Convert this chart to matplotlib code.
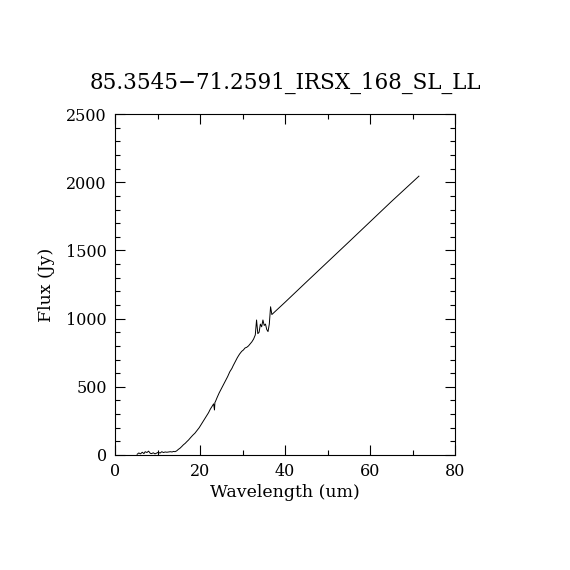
import matplotlib
matplotlib.use("Agg")
import matplotlib.pyplot as plt
import numpy as np
from matplotlib.ticker import MultipleLocator

plt.rcParams.update({
    "font.family": ["DejaVu Serif"],
    "font.size": 11,
    "xtick.direction": "in",
    "ytick.direction": "in",
    "xtick.top": True,
    "ytick.right": True,
    "xtick.major.size": 7.5,
    "ytick.major.size": 7.5,
    "xtick.minor.size": 3.6,
    "ytick.minor.size": 3.6,
    "axes.linewidth": 0.8,
})

# -------------------------
# Spectrum values
# -------------------------
title = "85.3545\u221271.2591_IRSX_168_SL_LL"

wave_sl = [5.2, 5.6, 6.0, 6.4, 6.8, 7.1, 7.5, 7.9, 8.3, 8.6, 9.0, 9.4, 9.8, 10.2,
           10.6, 11.0, 11.4, 11.8, 12.2, 12.6, 13.0, 13.4, 13.8, 14.1, 14.5, 14.9,
           15.3, 15.7, 16.1, 16.5, 16.9, 17.3, 17.8, 18.3, 18.8, 19.3, 19.8, 20.3,
           20.8, 21.2, 21.6, 22.0, 22.4, 22.8, 23.2, 23.4, 23.5, 23.6, 24.0, 24.5,
           25.0, 25.5, 26.0, 26.5, 27.0, 27.5, 27.8, 28.3, 28.8, 29.3, 29.8, 30.2,
           30.6, 31.0, 31.4, 31.8, 32.2, 32.6]
flux_sl = [5, 15, 8, 20, 10, 24, 18, 28, 12, 10, 16, 8, 14, 20,
           14, 24, 18, 22, 20, 22, 24, 22, 26, 24, 30, 41,
           50, 62, 75, 85, 98, 110, 128, 145, 160, 180, 200, 225,
           250, 270, 290, 310, 335, 355, 375, 330, 385, 390, 420, 455,
           485, 515, 545, 575, 610, 635, 655, 685, 715, 740, 760, 770,
           785, 790, 800, 815, 830, 850]

wave_ll = [33.0, 33.3, 33.6, 33.9, 34.2, 34.5, 34.8, 35.1, 35.4, 35.7, 36.0,
           36.3, 36.6, 36.9, 40.0, 45.0, 50.0, 55.0, 60.0, 65.0, 71.5]
flux_ll = [880, 990, 890, 900, 960, 940, 990, 950, 960, 920, 905,
           960, 1087, 1030, 1120, 1268, 1415, 1562, 1710, 1858, 2045]

wave = np.array(wave_sl + wave_ll)
flux = np.array(flux_sl + flux_ll)

# -------------------------
# Figure
# -------------------------
fig = plt.figure(figsize=(5.7, 5.7), dpi=100)
ax = fig.add_axes([0.2018, 0.2018, 0.5965, 0.598])

ax.plot(wave, flux, color="black", linewidth=0.7)

ax.set_xlim(0, 80)
ax.set_ylim(0, 2500)
ax.xaxis.set_major_locator(MultipleLocator(20))
ax.xaxis.set_minor_locator(MultipleLocator(10))
ax.yaxis.set_major_locator(MultipleLocator(500))
ax.yaxis.set_minor_locator(MultipleLocator(100))
ax.tick_params(which="both", width=0.8, labelsize=11.5, pad=6)

ax.set_xlabel("Wavelength (um)", fontsize=12.5, labelpad=3)
ax.set_ylabel("Flux (Jy)", fontsize=12.5, labelpad=8)
fig.text(0.5, 0.855, title, ha="center", va="center", fontsize=15.5)

fig.savefig("out.png", dpi=100)
plt.close(fig)
